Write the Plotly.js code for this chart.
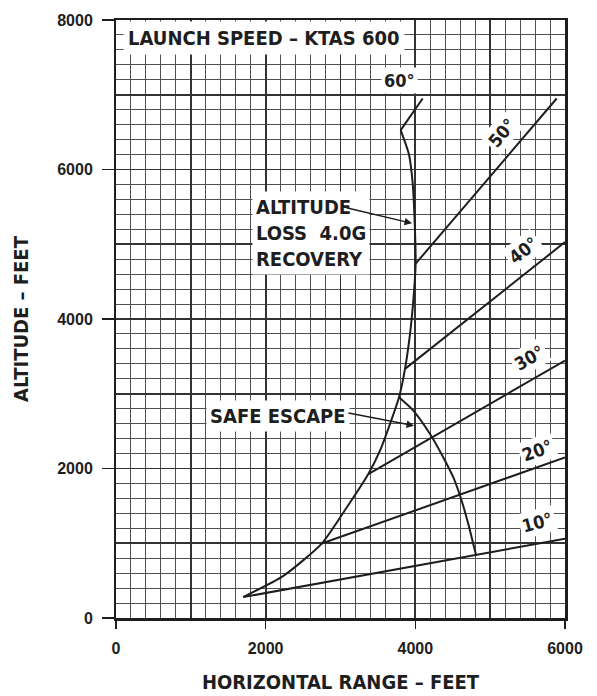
<!DOCTYPE html>
<html>
<head>
<meta charset="utf-8">
<script src="https://cdn.plot.ly/plotly-3.0.1.min.js"></script>
<style>
  html, body { margin: 0; padding: 0; background: #fff; }
  #chart { width: 597px; height: 696px; }
</style>
</head>
<body>
<div id="chart"></div>
<script>
// Ejection envelope at 600 KTAS: altitude-loss curve, dive-angle rays, safe-escape boundary.

// Altitude loss for a 4.0 g recovery (horizontal range ft, altitude ft)
const lossX = [1700, 2236, 2749, 3083, 3372, 3528, 3662, 3782, 3862, 3929, 3973, 4004, 3992, 3965, 3915, 3804];
const lossY = [280, 563, 996, 1478, 1926, 2238, 2596, 2952, 3333, 3801, 4248, 4740, 5276, 5812, 6200, 6526];

// Dive-angle rays: start on the altitude-loss curve, end at the chart edge
const rayAngles = ['10°', '20°', '30°', '40°', '50°', '60°'];
const rayStartX = [1700, 2749, 3372, 3862, 4004, 3804];
const rayStartY = [280, 996, 1926, 3333, 4740, 6526];
const rayEndX   = [6000, 6000, 6000, 6000, 5889, 4098];
const rayEndY   = [1060, 2148, 3444, 5029, 6950, 6950];

// Safe-escape boundary
const safeX = [3782, 3973, 4196, 4374, 4508, 4619, 4708, 4775, 4811];
const safeY = [2952, 2774, 2462, 2148, 1880, 1568, 1256, 988, 845];

// Axis ticks
const xTicks = [0, 2000, 4000, 6000];
const yTicks = [0, 2000, 4000, 6000, 8000];

const NARROW = '"Liberation Sans Narrow", "DejaVu Sans Condensed", "Roboto Condensed", "Arial Narrow", sans-serif';
const INK = '#1e1e1e';
const lineStyle = { color: INK, width: 2 };
const curveStyle = { color: INK, width: 2, shape: 'spline', smoothing: 0.6 };

const traces = [];
// empty trace so the base (grid) subplot exists
traces.push({ x: [], y: [], type: 'scatter', mode: 'lines', xaxis: 'x', yaxis: 'y',
  showlegend: false, hoverinfo: 'skip' });

rayAngles.forEach((name, i) => {
  traces.push({
    x: [rayStartX[i], rayEndX[i]], y: [rayStartY[i], rayEndY[i]],
    type: 'scatter', mode: 'lines', name: name, line: lineStyle,
    xaxis: 'x2', yaxis: 'y2', showlegend: false
  });
});
traces.push({ x: lossX, y: lossY, type: 'scatter', mode: 'lines', name: 'Altitude loss',
  line: curveStyle, xaxis: 'x2', yaxis: 'y2', showlegend: false });
traces.push({ x: safeX, y: safeY, type: 'scatter', mode: 'lines', name: 'Safe escape',
  line: curveStyle, xaxis: 'x2', yaxis: 'y2', showlegend: false });

const labelFont = { family: NARROW, size: 20, color: INK, weight: 'bold' };
const angleFont = { family: NARROW, size: 18, color: INK, weight: 'bold' };

function textBox(text, x, y, extra) {
  return Object.assign({ text: text, x: x, y: y, xref: 'x', yref: 'y', showarrow: false,
    font: labelFont, bgcolor: '#ffffff', borderpad: 3 }, extra || {});
}
function angleLabel(i, x, y, angle) {
  return textBox(rayAngles[i], x, y, { font: angleFont, textangle: angle, borderpad: 2 });
}
function arrow(tailX, tailY, tipX, tipY) {
  return { x: tipX, y: tipY, ax: tailX, ay: tailY, xref: 'x', yref: 'y', axref: 'x', ayref: 'y',
    text: '', showarrow: true, arrowhead: 2, arrowsize: 1, arrowwidth: 1.5,
    arrowcolor: INK, standoff: 0 };
}

const annotations = [
  textBox('LAUNCH SPEED – KTAS 600', 1978, 7758, { borderpad: 4 }),
  textBox('ALTITUDE<br>LOSS  4.0G<br>RECOVERY', 1817, 5150, { xanchor: 'left', align: 'left' }),
  textBox('SAFE ESCAPE', 2165, 2707),
  arrow(3059, 5494, 3955, 5280),
  arrow(3086, 2747, 3982, 2573),
  angleLabel(5, 3795, 7196, 0),
  angleLabel(4, 5158, 6499, -50),
  angleLabel(3, 5439, 4918, -38),
  angleLabel(2, 5532, 3484, -30),
  angleLabel(1, 5626, 2238, -20),
  angleLabel(0, 5626, 1273, -15)
];

const titleFont = { family: NARROW, size: 20, color: INK, weight: 'bold' };
const tickFont = { family: '"Liberation Sans", Arial, sans-serif', size: 16, color: INK, weight: 'bold' };

const layout = {
  width: 597, height: 696,
  margin: { l: 116, r: 32, t: 20, b: 78 },
  paper_bgcolor: '#ffffff', plot_bgcolor: '#ffffff',
  showlegend: false,
  // base axes: the 200 ft / 1000 ft grid and the frame
  xaxis: {
    range: [0, 6000], dtick: 1000, tick0: 0, showticklabels: false, ticks: '',
    showgrid: true, gridcolor: '#333333', gridwidth: 1.7, zeroline: false,
    showline: true, linecolor: INK, linewidth: 2.5, mirror: true,
    minor: { dtick: 200, showgrid: true, gridcolor: '#505050', gridwidth: 1 },
    fixedrange: true
  },
  yaxis: {
    range: [0, 8000], dtick: 1000, tick0: 0, showticklabels: false, ticks: '',
    showgrid: true, gridcolor: '#333333', gridwidth: 1.7, zeroline: false,
    showline: true, linecolor: INK, linewidth: 2.5, mirror: true,
    minor: { dtick: 200, showgrid: true, gridcolor: '#505050', gridwidth: 1 },
    fixedrange: true
  },
  // overlay axes: labelled ticks, titles and the data
  xaxis2: {
    overlaying: 'x', anchor: 'y2', range: [0, 6000],
    tickmode: 'array', tickvals: xTicks, ticktext: xTicks.map(String),
    ticks: 'outside', ticklen: 10, tickwidth: 1.5, tickcolor: INK,
    ticklabelstandoff: 6, tickfont: tickFont,
    showgrid: false, zeroline: false, showline: false,
    title: { text: 'HORIZONTAL RANGE – FEET', font: titleFont, standoff: 18 },
    fixedrange: true
  },
  yaxis2: {
    overlaying: 'y', anchor: 'x2', range: [0, 8000],
    tickmode: 'array', tickvals: yTicks, ticktext: yTicks.map(String),
    ticks: 'outside', ticklen: 13, tickwidth: 1.5, tickcolor: INK,
    ticklabelstandoff: 6, tickfont: tickFont,
    showgrid: false, zeroline: false, showline: false,
    title: { text: 'ALTITUDE – FEET', font: titleFont, standoff: 23 },
    fixedrange: true
  },
  annotations: annotations
};

Plotly.newPlot('chart', traces, layout, { displayModeBar: false, staticPlot: true });
</script>
</body>
</html>
